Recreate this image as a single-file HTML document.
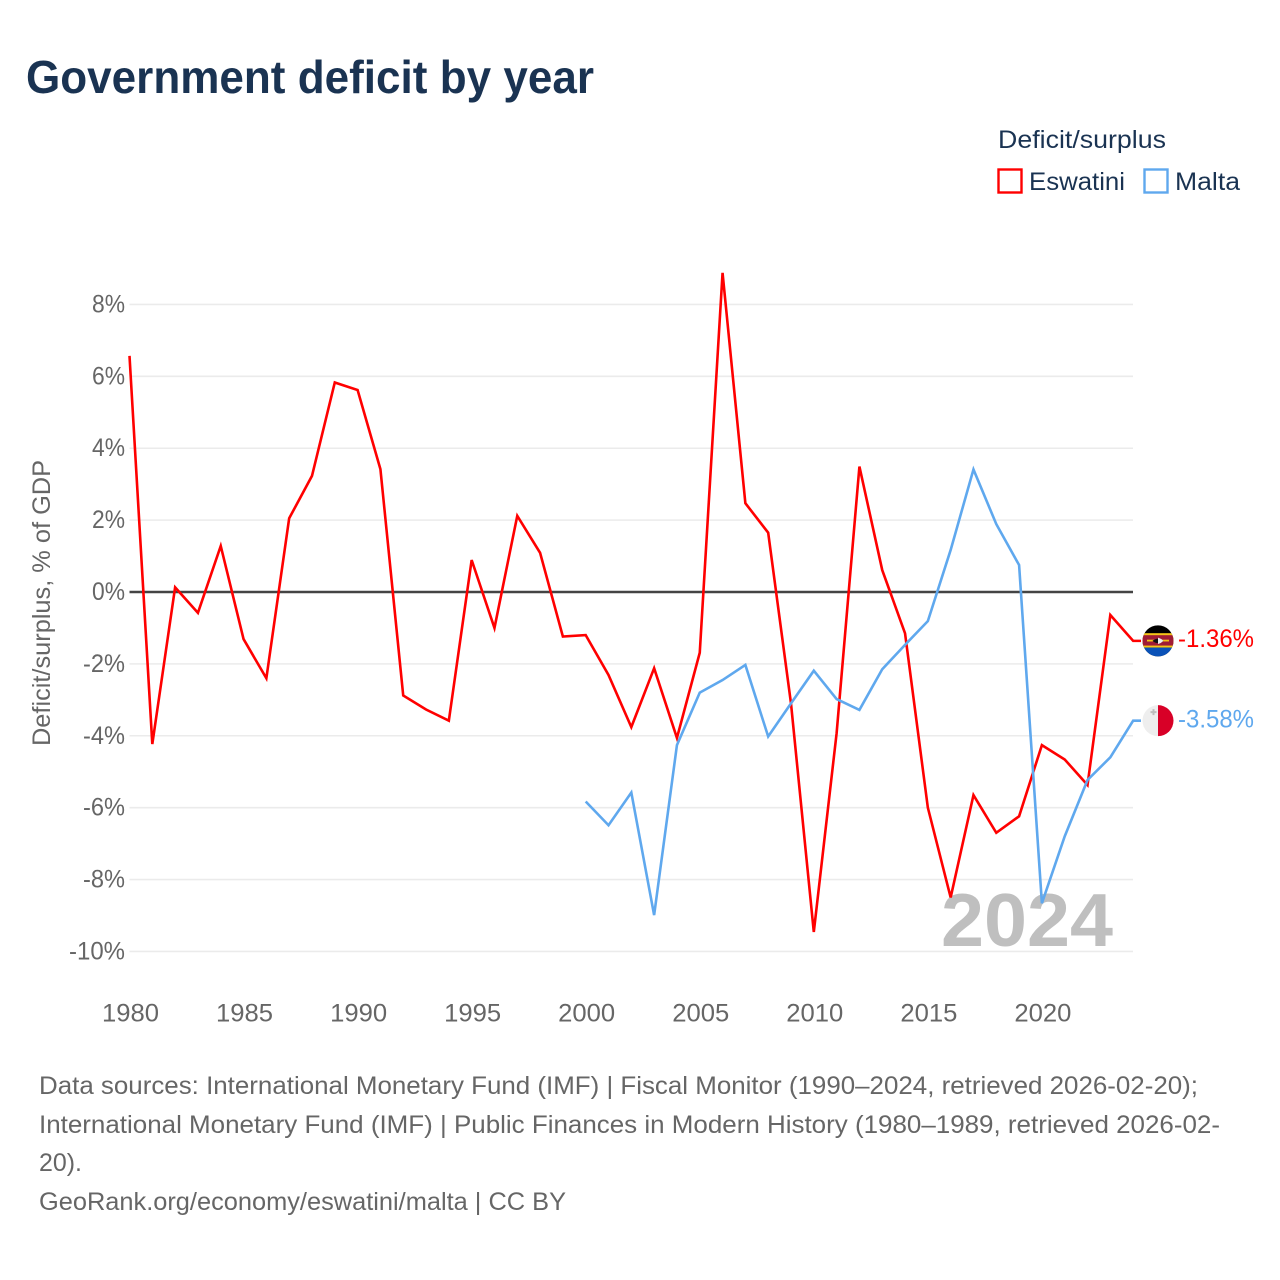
<!DOCTYPE html>
<html lang="en">
<head>
<meta charset="utf-8">
<title>Government deficit by year</title>
<style>
html,body{margin:0;padding:0;background:#fff}
svg{display:block}
text{font-family:"Liberation Sans",sans-serif}
</style>
</head>
<body>
<svg id="chart" xmlns="http://www.w3.org/2000/svg" width="1280" height="1280" viewBox="0 0 1280 1280">
  <rect width="1280" height="1280" fill="#fff"/>
  <text x="26" y="93" font-size="46" font-weight="700" fill="#1a3352" textLength="568" lengthAdjust="spacingAndGlyphs">Government deficit by year</text>

  <g>
    <text x="998" y="148" font-size="25" fill="#1a3352" textLength="168" lengthAdjust="spacingAndGlyphs">Deficit/surplus</text>
    <g>
      <rect x="998.5" y="169.5" width="23" height="23" fill="#fff" stroke="#ff0000" stroke-width="2.4"/>
      <text x="1029" y="190" font-size="25" fill="#1a3352" textLength="96" lengthAdjust="spacingAndGlyphs">Eswatini</text>
    </g>
    <g>
      <rect x="1144.5" y="169.5" width="23" height="23" fill="#fff" stroke="#5fa8ee" stroke-width="2.4"/>
      <text x="1175" y="190" font-size="25" fill="#1a3352" textLength="65" lengthAdjust="spacingAndGlyphs">Malta</text>
    </g>
  </g>

  <text transform="translate(50,603) rotate(-90)" text-anchor="middle" font-size="25" fill="#666" textLength="286" lengthAdjust="spacingAndGlyphs">Deficit/surplus, % of GDP</text>

  <g id="grid"></g>
  <g id="yticks"></g>
  <g id="xticks"></g>

  <text x="941" y="946" font-size="75" font-weight="700" fill="#bfbfbf" textLength="172" lengthAdjust="spacingAndGlyphs">2024</text>

  <g id="series"></g>

  <defs>
    <clipPath id="flag-clip"><circle cx="0" cy="0" r="15.5"/></clipPath>
  </defs>
  <g id="flag-eswatini" clip-path="url(#flag-clip)">
    <rect x="-16" y="-16" width="32" height="32" fill="#000"/>
    <rect x="-16" y="-7.7" width="32" height="14.4" fill="#f5c518"/>
    <rect x="-16" y="-5.7" width="32" height="10.4" fill="#a01c36"/>
    <rect x="-16" y="6.7" width="32" height="10" fill="#0a52b8"/>
    <rect x="-11" y="-1.2" width="22" height="1.8" fill="#f5c518"/>
    <path d="M-5.5 0 Q0 -4.5 5.5 0 Q0 4.5 -5.5 0Z" fill="#111"/>
    <path d="M0 -3.2 Q3 -2.4 5.5 0 Q3 2.4 0 3.2Z" fill="#eee"/>
  </g>
  <g id="flag-malta" clip-path="url(#flag-clip)">
    <rect x="-16" y="-16" width="16" height="32" fill="#eeeeee"/>
    <rect x="0" y="-16" width="16" height="32" fill="#d80027"/>
    <path d="M-7.5 -9.5h2v-2h2v2h2v2h-2v2h-2v-2h-2z" fill="#bdbdbd"/>
  </g>
  <g id="endlabels"></g>

  <g font-size="25" fill="#666">
    <text x="39" y="1094" textLength="1159" lengthAdjust="spacingAndGlyphs">Data sources: International Monetary Fund (IMF) | Fiscal Monitor (1990–2024, retrieved 2026-02-20);</text>
    <text x="39" y="1133" textLength="1181" lengthAdjust="spacingAndGlyphs">International Monetary Fund (IMF) | Public Finances in Modern History (1980–1989, retrieved 2026-02-</text>
    <text x="39" y="1171" textLength="43" lengthAdjust="spacingAndGlyphs">20).</text>
    <text x="39" y="1210" textLength="527" lengthAdjust="spacingAndGlyphs">GeoRank.org/economy/eswatini/malta | CC BY</text>
  </g>
</svg>
<script>
const eswatiniYears = [1980,1981,1982,1983,1984,1985,1986,1987,1988,1989,1990,1991,1992,1993,1994,1995,1996,1997,1998,1999,2000,2001,2002,2003,2004,2005,2006,2007,2008,2009,2010,2011,2012,2013,2014,2015,2016,2017,2018,2019,2020,2021,2022,2023,2024];
const eswatiniValues = [6.57,-4.23,0.13,-0.58,1.28,-1.31,-2.4,2.05,3.23,5.83,5.62,3.42,-2.88,-3.27,-3.58,0.89,-1.0,2.12,1.09,-1.24,-1.2,-2.31,-3.76,-2.12,-4.06,-1.69,8.88,2.47,1.65,-3.1,-9.46,-3.93,3.49,0.61,-1.15,-6.0,-8.5,-5.65,-6.7,-6.24,-4.26,-4.66,-5.37,-0.64,-1.36];
const maltaYears = [2000,2001,2002,2003,2004,2005,2006,2007,2008,2009,2010,2011,2012,2013,2014,2015,2016,2017,2018,2019,2020,2021,2022,2023,2024];
const maltaValues = [-5.83,-6.49,-5.58,-8.99,-4.26,-2.8,-2.45,-2.03,-4.02,-3.1,-2.19,-2.98,-3.28,-2.15,-1.47,-0.81,1.17,3.41,1.89,0.75,-8.66,-6.8,-5.23,-4.6,-3.58];
const yTickValues = [8,6,4,2,0,-2,-4,-6,-8,-10];
const xTickValues = [1980,1985,1990,1995,2000,2005,2010,2015,2020];

const NS = 'http://www.w3.org/2000/svg';
function xScale(year){ return 129.5 + (year - 1980) * 22.81; }
function yScale(value){ return 592 - value * 35.94; }
function make(parent, tag, attrs, content){
  const el = document.createElementNS(NS, tag);
  for (const k in attrs) el.setAttribute(k, attrs[k]);
  if (content !== undefined) el.textContent = content;
  parent.appendChild(el);
  return el;
}

const grid = document.getElementById('grid');
const yticks = document.getElementById('yticks');
yTickValues.forEach(function(v){
  const y = yScale(v);
  const line = make(grid, 'line', {x1:129.5, x2:1133, y1:y, y2:y, stroke: v === 0 ? '#444' : '#ebebeb', 'stroke-width': v === 0 ? 2.5 : 1.6});
  
  
  const label = v + '%';
  const labelWidth = 19 + 14 * String(Math.abs(v)).length + (v < 0 ? 9 : 0);
  const t = make(yticks, 'text', {x:125, y:y+8, 'text-anchor':'end', 'font-size':25, fill:'#666', textLength: labelWidth, lengthAdjust:'spacingAndGlyphs'}, label);
  
  
});

const xticks = document.getElementById('xticks');
xTickValues.forEach(function(yr){
  const t = make(xticks, 'text', {x:xScale(yr)+1, y:1021.5, 'text-anchor':'middle', 'font-size':25, fill:'#666', textLength:57, lengthAdjust:'spacingAndGlyphs'}, String(yr));
  
  
});

function drawSeries(years, values, color){
  const pts = years.map(function(yr, i){ return xScale(yr).toFixed(2) + ',' + yScale(values[i]).toFixed(2); });
  const lastY = yScale(values[values.length - 1]).toFixed(2);
  pts.push('1141,' + lastY);
  return make(document.getElementById('series'), 'polyline', {points:pts.join(' '), fill:'none', stroke:color, 'stroke-width':2.6, 'stroke-linejoin':'miter'});
}
const eswatiniLine = drawSeries(eswatiniYears, eswatiniValues, '#ff0000');


const maltaLine = drawSeries(maltaYears, maltaValues, '#5fa8ee');



const eswEnd = eswatiniValues[eswatiniValues.length - 1];
const mltEnd = maltaValues[maltaValues.length - 1];
document.getElementById('flag-eswatini').setAttribute('transform', 'translate(1158,' + yScale(eswEnd) + ')');
document.getElementById('flag-malta').setAttribute('transform', 'translate(1158,' + yScale(mltEnd) + ')');
const endLabels = document.getElementById('endlabels');
const eswLabel = make(endLabels, 'text', {x:1178, y:yScale(eswEnd)+6, 'font-size':25, fill:'#ff0000', textLength:76, lengthAdjust:'spacingAndGlyphs'}, eswEnd.toFixed(2) + '%');


const mltLabel = make(endLabels, 'text', {x:1178, y:yScale(mltEnd)+7, 'font-size':25, fill:'#5fa8ee', textLength:76, lengthAdjust:'spacingAndGlyphs'}, mltEnd.toFixed(2) + '%');


</script>
</body>
</html>
